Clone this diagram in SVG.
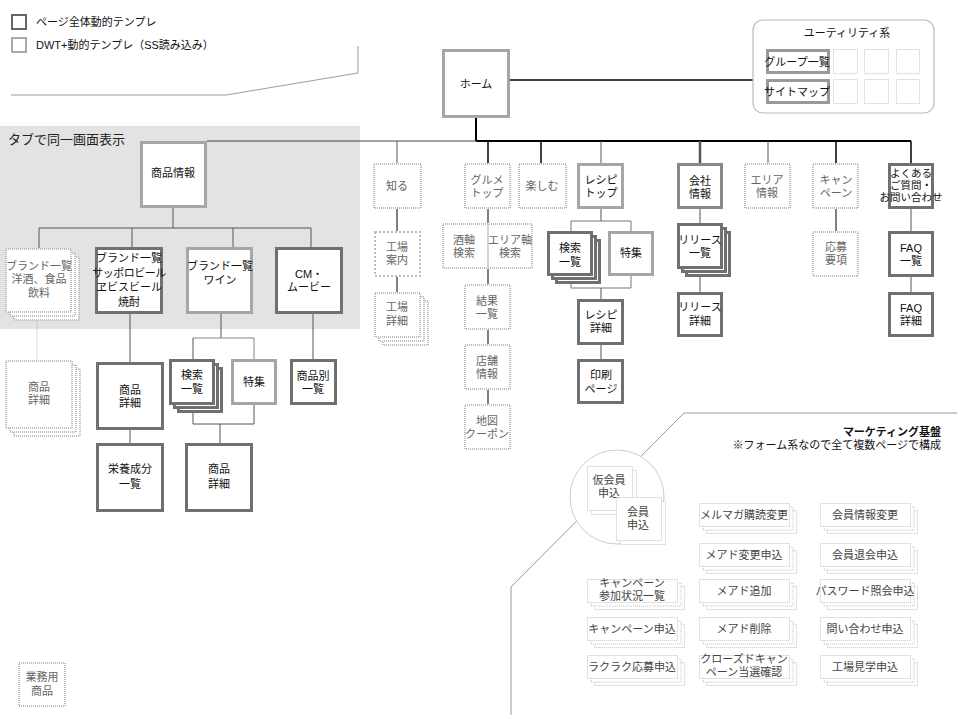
<svg xmlns="http://www.w3.org/2000/svg" width="960" height="720" viewBox="0 0 960 720">
<style>
text{font-family:"Liberation Sans","Noto Sans CJK JP",sans-serif;font-size:11px;fill:#111}
.m{text-anchor:middle}
.g{fill:#666}
.q{fill:#444}
.bd{fill:#fff;stroke:#707070;stroke-width:3}
.bm{fill:#fff;stroke:#a6a6a6;stroke-width:3}
.bl{fill:#fff;stroke:#bdbdbd;stroke-width:2;stroke-dasharray:1 1}
.bs{fill:#fff;stroke:#c4c4c4;stroke-width:1;stroke-dasharray:1 1}
.k{stroke:#000;stroke-width:1.5;fill:none}
.d{stroke:#555;stroke-width:1;fill:none}
.lg{stroke:#999;stroke-width:1;fill:none}
</style>
<rect width="960" height="720" fill="#fff"/>

<!-- legend -->
<g id="legend">
<rect x="12" y="15" width="14" height="14" fill="#fff" stroke="#666" stroke-width="2"/>
<text x="36" y="26">ページ全体動的テンプレ</text>
<rect x="12" y="38" width="14" height="14" fill="#fff" stroke="#aaa" stroke-width="2"/>
<text x="36" y="49">DWT+動的テンプレ（SS読み込み）</text>
<polyline class="lg" points="11,95 226,95 358,73 358,46"/>
</g>

<!-- grey tab area -->
<g id="tab-area">
<rect x="0" y="126" width="360" height="203" fill="#e3e3e3"/>
<text x="8" y="144" style="font-size:13px;fill:#222">タブで同一画面表示</text>
</g>

<!-- connectors -->
<g id="connectors">
<line class="k" x1="510" y1="80" x2="753" y2="80"/>
<line x1="476" y1="118" x2="476" y2="141" stroke="#000" stroke-width="2"/>
<line x1="207" y1="141" x2="476" y2="141" stroke="#444" stroke-width="1"/>
<line x1="476" y1="141" x2="911" y2="141" stroke="#000" stroke-width="2"/>
<line class="d" x1="397" y1="141" x2="397" y2="163"/>
<line class="k" x1="488" y1="141" x2="488" y2="163"/>
<line class="k" x1="541" y1="141" x2="541" y2="163"/>
<line class="d" x1="601" y1="141" x2="601" y2="163"/>
<line x1="700" y1="141" x2="700" y2="163" stroke="#555" stroke-width="2.5"/>
<line class="d" x1="768" y1="141" x2="768" y2="163"/>
<line class="k" x1="836" y1="141" x2="836" y2="163"/>
<line class="k" x1="911" y1="141" x2="911" y2="163"/>
<!-- product info -->
<line class="d" x1="173" y1="208" x2="173" y2="228"/>
<line class="d" x1="39" y1="228" x2="311" y2="228"/>
<line class="d" x1="39" y1="228" x2="39" y2="248"/>
<line class="d" x1="132" y1="228" x2="132" y2="247"/>
<line class="d" x1="233" y1="228" x2="233" y2="247"/>
<line class="d" x1="311" y1="228" x2="311" y2="247"/>
<line x1="37" y1="313" x2="37" y2="360" stroke="#bbb" stroke-width="1" stroke-dasharray="1 1"/>
<line class="d" x1="130" y1="314" x2="130" y2="362"/>
<line class="d" x1="130" y1="430" x2="130" y2="443"/>
<line class="d" x1="221" y1="314" x2="221" y2="338"/>
<line x1="193" y1="338" x2="254" y2="338" stroke="#888"/>
<line class="d" x1="193" y1="338" x2="193" y2="359"/>
<line x1="254" y1="338" x2="254" y2="359" stroke="#888"/>
<line class="d" x1="193" y1="412" x2="193" y2="424"/>
<line class="d" x1="254" y1="404" x2="254" y2="424"/>
<line class="d" x1="193" y1="424" x2="254" y2="424"/>
<line class="d" x1="220" y1="424" x2="220" y2="443"/>
<line class="d" x1="313" y1="314" x2="313" y2="359"/>
<!-- middle -->
<line x1="397" y1="209" x2="397" y2="231" stroke="#000"/>
<line x1="397" y1="277" x2="397" y2="292" stroke="#000"/>
<line x1="488" y1="209" x2="488" y2="223" stroke="#000"/>
<line x1="488" y1="269" x2="488" y2="284" stroke="#000"/>
<line x1="488" y1="330" x2="488" y2="344" stroke="#000"/>
<line x1="488" y1="390" x2="488" y2="404" stroke="#000"/>
<!-- recipe -->
<line class="d" x1="601" y1="209" x2="601" y2="221"/>
<line x1="571" y1="221" x2="631" y2="221" stroke="#777"/>
<line x1="571" y1="221" x2="571" y2="231" stroke="#777"/>
<line x1="631" y1="221" x2="631" y2="231" stroke="#777"/>
<line x1="571" y1="283" x2="571" y2="288" stroke="#777"/>
<line x1="631" y1="276" x2="631" y2="288" stroke="#777"/>
<line x1="571" y1="288" x2="631" y2="288" stroke="#777"/>
<line class="d" x1="601" y1="288" x2="601" y2="299"/>
<line class="d" x1="601" y1="345" x2="601" y2="359"/>
<!-- company -->
<line class="d" x1="700" y1="209" x2="700" y2="223"/>
<line class="d" x1="700" y1="277" x2="700" y2="292"/>
<!-- campaign / faq -->
<line x1="836" y1="209" x2="836" y2="231" stroke="#000"/>
<line class="d" x1="911" y1="209" x2="911" y2="231"/>
<line class="d" x1="911" y1="277" x2="911" y2="292"/>
</g>

<!-- utility -->
<g id="utility">
<rect x="753" y="20" width="181" height="93" rx="10" fill="#fff" stroke="#bbb" stroke-width="1.2"/>
<text class="m" x="847" y="37">ユーティリティ系</text>
<rect x="767.5" y="50.5" width="61" height="22" fill="#fff" stroke="#999" stroke-width="3"/>
<text class="m" x="797" y="66">グループ一覧</text>
<rect x="767.5" y="80.5" width="61" height="22" fill="#fff" stroke="#999" stroke-width="3"/>
<text class="m" x="797" y="96">サイトマップ</text>
<rect class="bs" x="833.5" y="49.5" width="24" height="24"/>
<rect class="bs" x="864.5" y="49.5" width="24" height="24"/>
<rect class="bs" x="896.5" y="49.5" width="23" height="24"/>
<rect class="bs" x="833.5" y="79.5" width="24" height="24"/>
<rect class="bs" x="864.5" y="79.5" width="24" height="24"/>
<rect class="bs" x="896.5" y="79.5" width="23" height="24"/>
</g>

<g id="home"><rect class="bm" x="443.5" y="50.5" width="65" height="66"/><text class="m" x="476" y="88">ホーム</text></g>

<!-- top row -->
<g id="shiru"><rect class="bl" x="374" y="164" width="47" height="44"/><text class="m g" x="397" y="190">知る</text></g>
<g id="gourmet"><rect class="bl" x="465" y="164" width="45" height="44"/><text class="m g" x="487" y="184">グルメ</text><text class="m g" x="487" y="197">トップ</text></g>
<g id="tanoshimu"><rect class="bl" x="519" y="164" width="47" height="44"/><text class="m g" x="542" y="190">楽しむ</text></g>
<g id="recipe-top"><rect class="bm" x="578.5" y="164.5" width="44" height="43"/><text class="m" x="601" y="184">レシピ</text><text class="m" x="601" y="197">トップ</text></g>
<g id="company"><rect class="bd" x="678.5" y="164.5" width="43" height="43" style="stroke:#888"/><text class="m" x="700" y="185">会社</text><text class="m" x="700" y="198">情報</text></g>
<g id="area"><rect class="bl" x="745" y="164" width="45" height="44"/><text class="m g" x="767" y="184">エリア</text><text class="m g" x="767" y="197">情報</text></g>
<g id="campaign"><rect class="bl" x="813" y="164" width="45" height="44"/><text class="m g" x="836" y="184">キャン</text><text class="m g" x="836" y="197">ペーン</text></g>
<g id="faq-top"><rect class="bd" x="889.5" y="164.5" width="43" height="43"/><text class="m" x="911" y="177" style="font-size:10.5px">よくある</text><text class="m" x="911" y="189" style="font-size:10.5px">ご質問・</text><text class="m" x="911" y="201" style="font-size:10.5px">お問い合わせ</text></g>

<!-- product info -->
<g id="product-info"><rect class="bm" x="141.5" y="142.5" width="64" height="64"/><text class="m" x="173" y="177">商品情報</text></g>
<g id="brand-other">
<rect class="bl" x="14" y="257" width="65" height="63"/>
<rect class="bl" x="10" y="253" width="65" height="63"/>
<rect class="bl" x="6" y="249" width="65" height="63"/>
<text class="m g" x="39" y="270">ブランド一覧</text><text class="m g" x="39" y="283">洋酒、食品</text><text class="m g" x="39" y="297">飲料</text></g>
<g id="brand-sapporo"><rect class="bd" x="96.5" y="248.5" width="65" height="64"/><text class="m" x="129" y="262">ブランド一覧</text><text class="m" x="129" y="277" style="letter-spacing:-0.5px">サッポロビール</text><text class="m" x="129" y="291">ヱビスビール</text><text class="m" x="129" y="306">焼酎</text></g>
<g id="brand-wine"><rect class="bm" x="187.5" y="248.5" width="64" height="64"/><text class="m" x="220" y="270">ブランド一覧</text><text class="m" x="220" y="284">ワイン</text></g>
<g id="cm"><rect class="bd" x="276.5" y="248.5" width="65" height="64"/><text class="m" x="309" y="278">CM・</text><text class="m" x="309" y="291">ムービー</text></g>

<g id="detail-other">
<rect class="bl" x="14" y="369" width="66" height="67"/>
<rect class="bl" x="10" y="365" width="66" height="67"/>
<rect class="bl" x="6" y="361" width="66" height="67"/>
<text class="m g" x="39" y="391">商品</text><text class="m g" x="39" y="404">詳細</text></g>
<g id="detail-sapporo"><rect class="bd" x="97.5" y="363.5" width="65" height="65"/><text class="m" x="130" y="394">商品</text><text class="m" x="130" y="407">詳細</text></g>
<g id="nutrition"><rect class="bd" x="97.5" y="444.5" width="65" height="66"/><text class="m" x="130" y="473">栄養成分</text><text class="m" x="130" y="488">一覧</text></g>
<g id="wine-search">
<rect class="bd" x="178.5" y="368.5" width="43" height="43"/>
<rect class="bd" x="174.5" y="364.5" width="43" height="43"/>
<rect class="bd" x="170.5" y="360.5" width="43" height="43"/>
<text class="m" x="192" y="379">検索</text><text class="m" x="192" y="393">一覧</text></g>
<g id="wine-feature"><rect class="bm" x="232.5" y="360.5" width="43" height="43"/><text class="m" x="254" y="386">特集</text></g>
<g id="wine-detail"><rect class="bd" x="186.5" y="444.5" width="65" height="66"/><text class="m" x="219" y="473">商品</text><text class="m" x="219" y="488">詳細</text></g>
<g id="cm-list"><rect class="bd" x="291.5" y="360.5" width="44" height="43"/><text class="m" x="313" y="380">商品別</text><text class="m" x="313" y="393">一覧</text></g>

<!-- middle columns -->
<g id="factory"><rect x="375" y="232" width="45" height="44" fill="#fff" stroke="#bdbdbd" stroke-width="2" stroke-dasharray="2 2"/><text class="m g" x="397" y="251">工場</text><text class="m g" x="397" y="264">案内</text></g>
<g id="factory-detail">
<rect class="bl" x="383" y="301" width="45" height="44"/>
<rect class="bl" x="379" y="297" width="45" height="44"/>
<rect class="bl" x="375" y="293" width="45" height="44"/>
<text class="m g" x="397" y="311">工場</text><text class="m g" x="397" y="325">詳細</text></g>
<g id="axis-search"><rect class="bl" x="443" y="224" width="89" height="44"/><line x1="488" y1="224" x2="488" y2="268" stroke="#c8c8c8" stroke-width="1.5"/><text class="m g" x="464" y="244">酒軸</text><text class="m g" x="464" y="257">検索</text><text class="m g" x="510" y="244">エリア軸</text><text class="m g" x="510" y="257">検索</text></g>
<g id="result"><rect class="bl" x="465" y="285" width="45" height="44"/><text class="m g" x="487" y="305">結果</text><text class="m g" x="487" y="318">一覧</text></g>
<g id="shop"><rect class="bl" x="465" y="345" width="45" height="44"/><text class="m g" x="487" y="365">店舗</text><text class="m g" x="487" y="378">情報</text></g>
<g id="map"><rect class="bl" x="465" y="405" width="45" height="44"/><text class="m g" x="487" y="425">地図</text><text class="m g" x="487" y="438">クーポン</text></g>

<!-- recipe -->
<g id="recipe-search">
<rect class="bd" x="556.5" y="240.5" width="43" height="42"/>
<rect class="bd" x="552.5" y="236.5" width="43" height="42"/>
<rect class="bd" x="548.5" y="232.5" width="43" height="42"/>
<text class="m" x="570" y="252">検索</text><text class="m" x="570" y="266">一覧</text></g>
<g id="recipe-feature"><rect class="bm" x="609.5" y="232.5" width="43" height="42"/><text class="m" x="631" y="257">特集</text></g>
<g id="recipe-detail"><rect class="bd" x="578.5" y="300.5" width="44" height="43"/><text class="m" x="601" y="319">レシピ</text><text class="m" x="601" y="332">詳細</text></g>
<g id="print"><rect class="bd" x="578.5" y="360.5" width="44" height="42"/><text class="m" x="601" y="379">印刷</text><text class="m" x="601" y="393">ページ</text></g>

<!-- company -->
<g id="release-list">
<rect class="bd" x="686.5" y="232.5" width="43" height="43"/>
<rect class="bd" x="682.5" y="228.5" width="43" height="43"/>
<rect class="bd" x="678.5" y="224.5" width="43" height="43"/>
<text class="m" x="700" y="244">リリース</text><text class="m" x="700" y="257">一覧</text></g>
<g id="release-detail"><rect class="bd" x="678.5" y="293.5" width="43" height="42"/><text class="m" x="700" y="311">リリース</text><text class="m" x="700" y="325">詳細</text></g>
<g id="apply-rules"><rect class="bl" x="813" y="232" width="45" height="44"/><text class="m g" x="836" y="251">応募</text><text class="m g" x="836" y="264">要項</text></g>
<g id="faq-list"><rect class="bd" x="889.5" y="232.5" width="43" height="43"/><text class="m" x="911" y="252">FAQ</text><text class="m" x="911" y="265">一覧</text></g>
<g id="faq-detail"><rect class="bd" x="889.5" y="293.5" width="43" height="42"/><text class="m" x="911" y="312">FAQ</text><text class="m" x="911" y="325">詳細</text></g>

<!-- marketing -->
<g id="marketing">
<polyline class="lg" points="957,413 684,413 511,587 511,715"/>
<text x="941" y="436" style="text-anchor:end;font-weight:bold">マーケティング基盤</text>
<text x="941" y="449" style="text-anchor:end">※フォーム系なので全て複数ページで構成</text>
<circle cx="617" cy="497" r="47" fill="#fff" stroke="#ccc" stroke-width="1"/>
</g>
<g id="kari">
<rect class="bs" x="591.5" y="470.5" width="45" height="44"/>
<rect class="bs" x="587.5" y="466.5" width="45" height="44"/>
<text class="m q" x="609" y="484">仮会員</text><text class="m q" x="609" y="497">申込</text></g>
<g id="kaiin">
<rect class="bs" x="620.5" y="501.5" width="45" height="43"/>
<rect class="bs" x="616.5" y="497.5" width="45" height="43"/>
<text class="m q" x="638" y="516">会員</text><text class="m q" x="638" y="529">申込</text></g>

<defs>
<g id="fb">
<rect class="bs" x="7.5" y="7.5" width="90" height="23"/>
<rect class="bs" x="4" y="4" width="90" height="23"/>
<rect class="bs" x="0.5" y="0.5" width="90" height="23"/>
</g>
</defs>
<g id="f-melmaga"><use href="#fb" x="699" y="503"/><text class="m q" x="744" y="519">メルマガ購読変更</text></g>
<g id="f-kaiinjoho"><use href="#fb" x="820" y="503"/><text class="m q" x="865" y="519">会員情報変更</text></g>
<g id="f-meado-henko"><use href="#fb" x="699" y="543"/><text class="m q" x="744" y="559">メアド変更申込</text></g>
<g id="f-taikai"><use href="#fb" x="820" y="543"/><text class="m q" x="865" y="559">会員退会申込</text></g>
<g id="f-camp-sanka"><use href="#fb" x="587" y="579"/><text class="m q" x="632" y="587">キャンペーン</text><text class="m q" x="632" y="600">参加状況一覧</text></g>
<g id="f-meado-add"><use href="#fb" x="699" y="579"/><text class="m q" x="744" y="595">メアド追加</text></g>
<g id="f-password"><use href="#fb" x="820" y="579"/><text class="m q" x="865" y="595">パスワード照会申込</text></g>
<g id="f-camp-apply"><use href="#fb" x="587" y="617"/><text class="m q" x="632" y="633">キャンペーン申込</text></g>
<g id="f-meado-del"><use href="#fb" x="699" y="617"/><text class="m q" x="744" y="633">メアド削除</text></g>
<g id="f-inquiry"><use href="#fb" x="820" y="617"/><text class="m q" x="865" y="633">問い合わせ申込</text></g>
<g id="f-rakuraku"><use href="#fb" x="587" y="655"/><text class="m q" x="632" y="671">ラクラク応募申込</text></g>
<g id="f-closed"><use href="#fb" x="699" y="655"/><text class="m q" x="744" y="663">クローズドキャン</text><text class="m q" x="744" y="676">ペーン当選確認</text></g>
<g id="f-kengaku"><use href="#fb" x="820" y="655"/><text class="m q" x="865" y="671">工場見学申込</text></g>

<g id="gyomu"><rect class="bl" x="19" y="663" width="46" height="43"/><text class="m g" x="42" y="681">業務用</text><text class="m g" x="42" y="695">商品</text></g>
</svg>
